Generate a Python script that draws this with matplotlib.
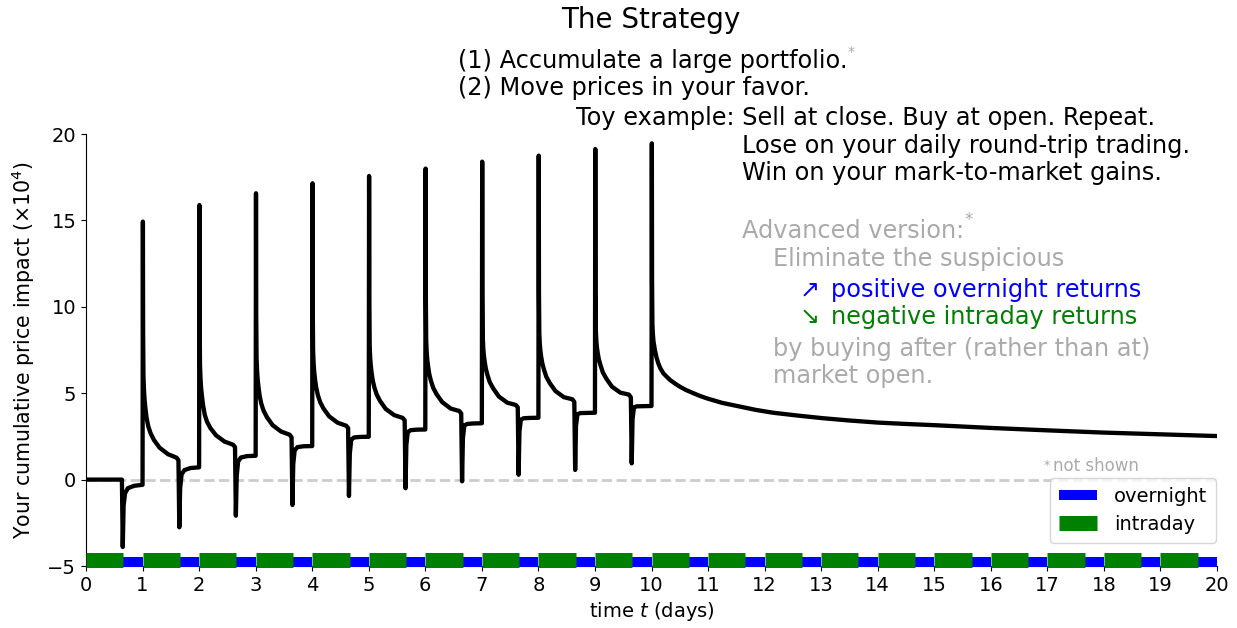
import numpy as np
import matplotlib.pyplot as plt

W, H = 1237, 628

# --- data ---
# time offsets within one day (open buy at 0, close sell around 0.65)
day_offsets = [0.0, 0.006, 0.01, 0.016, 0.025, 0.035, 0.05, 0.07, 0.1, 0.14, 0.2,
               0.3, 0.45, 0.6, 0.635, 0.65, 0.665, 0.69, 0.74, 0.85, 0.995]

day0 = [0, 0, 0, 0, 0, 0, 0, 0, 0, 0, 0,
        0, 0, 0, 0, -3.9, -1.5, -0.8, -0.5, -0.36, -0.3]
day1 = [-0.3, 14.93, 8.5, 6.0, 5.2, 4.65, 4.15, 3.6, 3.1, 2.7, 2.3,
        1.85, 1.47, 1.27, 1.12, -2.76, -0.5, 0.3, 0.55, 0.67, 0.71]
day2 = [0.71, 15.89, 9.11, 6.62, 5.84, 5.32, 4.84, 4.31, 3.75, 3.35, 2.98,
        2.56, 2.2, 2.02, 1.88, -2.09, 0.2, 1.05, 1.28, 1.36, 1.38]
day3 = [1.38, 16.57, 9.54, 7.07, 6.32, 5.82, 5.36, 4.86, 4.39, 3.99, 3.61,
        3.15, 2.78, 2.6, 2.45, -1.47, 0.9, 1.7, 1.88, 1.93, 1.94]
day4 = [1.94, 17.15, 9.92, 7.46, 6.73, 6.26, 5.81, 5.34, 4.89, 4.49, 4.11,
        3.66, 3.29, 3.12, 2.98, -0.95, 1.5, 2.3, 2.44, 2.47, 2.48]
day5 = [2.48, 17.57, 10.23, 7.78, 7.08, 6.63, 6.2, 5.75, 5.33, 4.93, 4.55,
        4.09, 3.73, 3.57, 3.43, -0.5, 2.0, 2.75, 2.86, 2.89, 2.9]
day6 = [2.9, 18.0, 10.48, 8.04, 7.37, 6.94, 6.54, 6.11, 5.71, 5.31, 4.94,
        4.48, 4.11, 3.97, 3.83, -0.1, 2.4, 3.13, 3.22, 3.25, 3.26]
day7 = [3.26, 18.4, 10.69, 8.26, 7.61, 7.21, 6.83, 6.43, 6.04, 5.64, 5.28,
        4.81, 4.45, 4.32, 4.18, 0.28, 2.8, 3.47, 3.55, 3.57, 3.58]
day8 = [3.58, 18.75, 10.87, 8.46, 7.84, 7.46, 7.09, 6.72, 6.35, 5.95, 5.59,
        5.13, 4.77, 4.65, 4.5, 0.56, 3.1, 3.78, 3.85, 3.86, 3.87]
day9 = [3.87, 19.13, 11.0, 8.6, 8.0, 7.65, 7.3, 6.95, 6.6, 6.2, 5.85,
        5.38, 5.03, 4.92, 4.76, 0.94, 3.5, 4.18, 4.24, 4.25, 4.26]
days = [day0, day1, day2, day3, day4, day5, day6, day7, day8, day9]

# last buy at the day 10 open, then the impact only decays
tail_t = [10.0, 10.006, 10.01, 10.016, 10.025, 10.035, 10.06, 10.09, 10.12, 10.16,
          10.21, 10.27, 10.33, 10.42, 10.5, 10.6, 10.74, 10.85, 10.98, 11.25,
          11.57, 11.85, 12.15, 12.6, 13.04, 13.5, 14.0, 14.5, 15.0, 16.0,
          17.0, 18.0, 19.0, 20.0]
tail_v = [4.26, 19.46, 11.5, 9.0, 8.4, 8.0, 7.5, 7.05, 6.73, 6.42,
          6.15, 5.95, 5.76, 5.55, 5.38, 5.2, 5.0, 4.85, 4.70, 4.44,
          4.22, 4.03, 3.87, 3.7, 3.55, 3.42, 3.3, 3.22, 3.15, 2.99,
          2.85, 2.72, 2.62, 2.52]

n_days = 20
intraday_len = 0.66

blue = '#0000ff'
green = '#008000'
grey = '#aaaaaa'

# build the curve
t_curve = np.concatenate([k + np.array(day_offsets) for k in range(len(days))] + [np.array(tail_t)])
v_curve = np.concatenate([np.array(d, dtype=float) for d in days] + [np.array(tail_v)])

fig = plt.figure(figsize=(W / 100, H / 100), dpi=100)
ax = fig.add_axes([86 / W, 1 - 566 / H, (1217 - 86) / W, (566 - 134) / H])

ax.axhline(0, color='#cccccc', lw=2, ls='--', zorder=1)
ax.plot(t_curve, v_curve, color='black', lw=3.1, zorder=3)

# overnight / intraday bars along the bottom
for k in range(n_days):
    ln_o, = ax.plot([k + intraday_len, k + 1], [-4.77, -4.77], color=blue, lw=7.2,
                    solid_capstyle='butt', clip_on=False, zorder=4)
    ln_i, = ax.plot([k, k + intraday_len], [-4.63, -4.63], color=green, lw=10.8,
                    solid_capstyle='butt', clip_on=False, zorder=5)

ax.set_xlim(0, 20)
ax.set_ylim(-5, 20)
ax.set_xticks(range(0, 21))
ax.set_yticks([-5, 0, 5, 10, 15, 20])
ax.tick_params(labelsize=14)
ax.spines['top'].set_visible(False)
ax.spines['right'].set_visible(False)
ax.set_xlabel('time $t$ (days)', fontsize=14)
ax.set_ylabel(r'Your cumulative price impact ($\times 10^4$)', fontsize=14.8, labelpad=7.5)

leg = ax.legend([ln_o, ln_i], ['overnight', 'intraday'], fontsize=14,
                loc='lower right', bbox_to_anchor=(1216 / W, 1 - 543 / H),
                bbox_transform=fig.transFigure, borderaxespad=0,
                handletextpad=0.85, borderpad=0.45)

def ftext(x, y, s, **kw):
    fig.text(x / W, 1 - y / H, s, va='baseline', **kw)

fs = 17.3
ftext(651, 28, 'The Strategy', fontsize=20, ha='center')
ftext(458, 68, '(1) Accumulate a large portfolio.', fontsize=fs)
ftext(848, 56, '*', fontsize=10, color=grey)
ftext(458, 95, '(2) Move prices in your favor.', fontsize=fs)
ftext(576, 125, 'Toy example: Sell at close. Buy at open. Repeat.', fontsize=fs)
ftext(742, 153, 'Lose on your daily round-trip trading.', fontsize=fs)
ftext(742, 180, 'Win on your mark-to-market gains.', fontsize=fs)

ftext(742, 238, 'Advanced version:', fontsize=fs, color=grey)
ftext(964, 225, '*', fontsize=12, color=grey)
ftext(773, 266, 'Eliminate the suspicious', fontsize=fs, color=grey)
ftext(800, 297, '\u2197', fontsize=fs, color=blue)
ftext(831, 297, 'positive overnight returns', fontsize=fs, color=blue)
ftext(800, 324, '\u2198', fontsize=fs, color=green)
ftext(831, 324, 'negative intraday returns', fontsize=fs, color=green)
ftext(773, 356, 'by buying after (rather than at)', fontsize=fs, color=grey)
ftext(773, 383, 'market open.', fontsize=fs, color=grey)

ftext(1044, 469, '*', fontsize=9, color=grey)
ftext(1053, 471, 'not shown', fontsize=12, color=grey)

fig.savefig('out.png', dpi=100)
